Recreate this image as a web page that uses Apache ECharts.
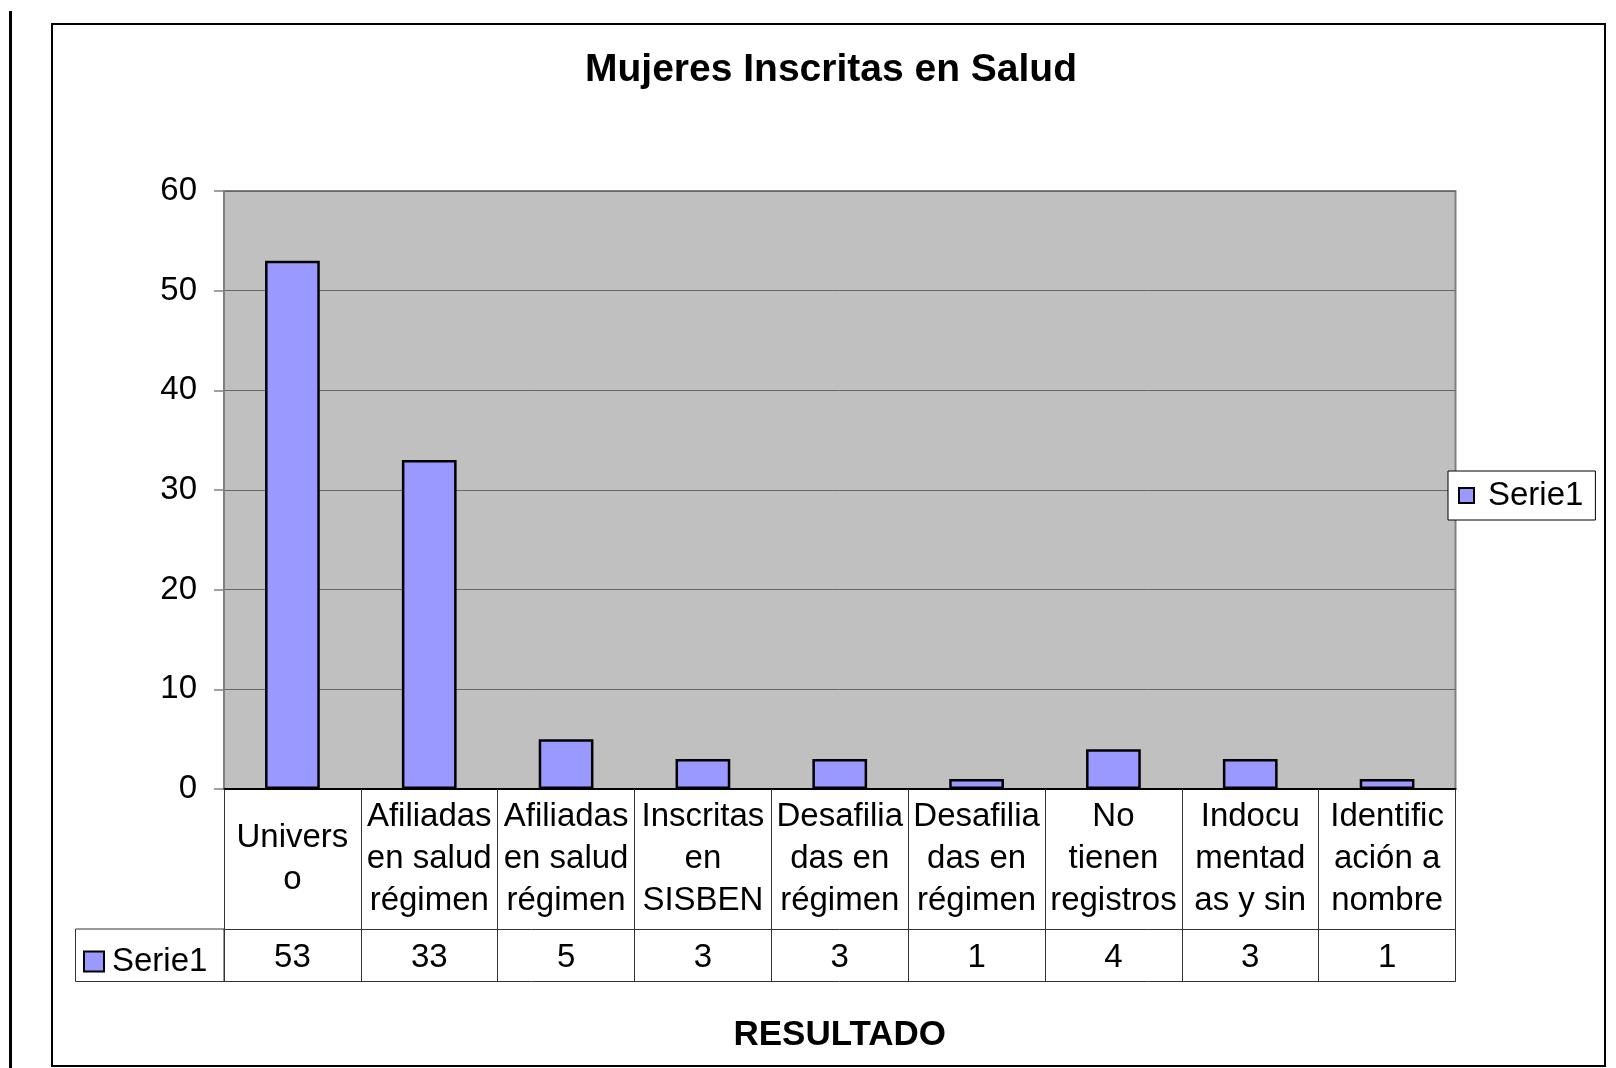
<!DOCTYPE html>
<html>
<head>
<meta charset="utf-8">
<title>Mujeres Inscritas en Salud</title>
<script src="https://cdn.jsdelivr.net/npm/echarts@6/dist/echarts.min.js"></script>
<style>
  html, body { margin: 0; padding: 0; background: #fff; }
  #barra { position: absolute; left: 9px; top: 11px; width: 3px; height: 1057px; background: #000; }
  #marco { position: absolute; left: 51px; top: 23px; width: 1551px; height: 1040px; border: 2px solid #000; }
  #grafico { position: absolute; left: 0; top: 0; width: 1616px; height: 1068px; }
</style>
</head>
<body>
<div id="barra"></div>
<div id="marco"></div>
<div id="grafico"></div>
<script type="text/javascript">
// datos del grafico
var categorias = [
  "Univers\no",
  "Afiliadas\nen salud\nrégimen",
  "Afiliadas\nen salud\nrégimen",
  "Inscritas\nen\nSISBEN",
  "Desafilia\ndas en\nrégimen",
  "Desafilia\ndas en\nrégimen",
  "No\ntienen\nregistros",
  "Indocu\nmentad\nas y sin",
  "Identific\nación a\nnombre"
];
var valores = [53, 33, 5, 3, 3, 1, 4, 3, 1];
var ticksY = [0, 10, 20, 30, 40, 50, 60];
var nombreSerie = "Serie1";

var fuente = "'Liberation Sans', Arial, sans-serif";
var lineaTabla = "#333";
var tamLetra = 33;

var myChart = echarts.init(document.getElementById("grafico"));

var option = {
  backgroundColor: "transparent",
  animation: false,
  textStyle: { fontFamily: fuente, color: "#000" },
  title: {
    text: "Mujeres Inscritas en Salud",
    left: 585,
    top: 51,
    padding: 0,
    textStyle: { fontFamily: fuente, fontSize: 39, fontWeight: "bold", color: "#000", lineHeight: 39 }
  },
  legend: [
    {
      // leyenda a la derecha
      data: [{ name: nombreSerie, icon: "rect" }],
      left: 1448,
      top: 471,
      orient: "vertical",
      selectedMode: false,
      backgroundColor: "#fff",
      borderColor: "#000",
      borderWidth: 1,
      padding: [8, 12, 8, 10],
      itemWidth: 15,
      itemHeight: 15,
      textStyle: { fontFamily: fuente, fontSize: tamLetra, color: "#000", lineHeight: 33, padding: [0, 0, 0, 9] }
    },
    {
      // clave dentro de la tabla de datos
      data: [{ name: nombreSerie, icon: "rect" }],
      left: 83,
      top: 945,
      selectedMode: false,
      padding: 0,
      itemWidth: 20,
      itemHeight: 20,
      textStyle: { fontFamily: fuente, fontSize: tamLetra, color: "#000", lineHeight: 33, padding: [0, 0, 0, 3] }
    }
  ],
  grid: {
    left: 224,
    top: 191,
    width: 1231.5,
    height: 598,
    show: true,
    backgroundColor: "#C0C0C0",
    borderColor: "#808080",
    borderWidth: 2
  },
  xAxis: [
    {
      type: "category",
      data: categorias,
      position: "bottom",
      name: "RESULTADO",
      nameLocation: "middle",
      nameGap: 246,
      nameTextStyle: { fontFamily: fuente, fontSize: 35, fontWeight: "bold", color: "#000", verticalAlign: "middle" },
      axisLine: { show: true, lineStyle: { color: "#000", width: 2 } },
      axisTick: { show: true, interval: 0, alignWithLabel: false, length: 140, lineStyle: { color: lineaTabla, width: 1 } },
      axisLabel: {
        interval: 0,
        margin: 70,
        fontSize: tamLetra,
        lineHeight: 42,
        color: "#000",
        fontFamily: fuente,
        verticalAlign: "middle"
      }
    },
    {
      // fila de valores de la tabla
      type: "category",
      data: valores.map(String),
      position: "bottom",
      offset: 140,
      axisLine: { show: true, lineStyle: { color: lineaTabla, width: 1 } },
      axisTick: { show: true, interval: 0, alignWithLabel: false, length: 52.5, lineStyle: { color: lineaTabla, width: 1 } },
      axisLabel: { interval: 0, margin: 29, fontSize: tamLetra, color: "#000", fontFamily: fuente, verticalAlign: "middle" }
    },
    {
      // borde inferior de la tabla
      type: "category",
      data: categorias,
      position: "bottom",
      offset: 192.5,
      axisLine: { show: true, lineStyle: { color: lineaTabla, width: 1 } },
      axisTick: { show: false },
      axisLabel: { show: false }
    }
  ],
  yAxis: {
    type: "value",
    min: ticksY[0],
    max: ticksY[ticksY.length - 1],
    interval: ticksY[1] - ticksY[0],
    axisLine: { show: true, lineStyle: { color: "#808080", width: 2 } },
    axisTick: { show: true, length: 10, lineStyle: { color: "#808080", width: 1.5 } },
    axisLabel: { margin: 27, fontSize: tamLetra, color: "#000", fontFamily: fuente },
    splitLine: { lineStyle: { color: "#666", width: 1 } }
  },
  graphic: [
    {
      // celda de la clave en la tabla
      type: "rect",
      shape: { x: 75.5, y: 929, width: 148.5, height: 52.5 },
      style: { fill: null, stroke: lineaTabla, lineWidth: 1 },
      silent: true
    }
  ],
  series: [
    {
      name: nombreSerie,
      type: "bar",
      barWidth: "40%",
      data: valores,
      itemStyle: { color: "#9999FF", borderColor: "#000", borderWidth: 2.5 }
    }
  ]
};

myChart.setOption(option);
</script>
</body>
</html>
